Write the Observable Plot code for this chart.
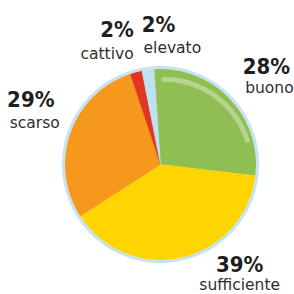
<!DOCTYPE html>
<html>
<head>
<meta charset="utf-8">
<script src="https://cdn.jsdelivr.net/npm/d3@7"></script>
<script src="https://cdn.jsdelivr.net/npm/@observablehq/plot@0.6"></script>
<style>
  html, body { margin: 0; padding: 0; background: #ffffff; }
  #chart svg { display: block; }
</style>
</head>
<body>
<div id="chart"></div>
<script>
// ---- data ----
const categories = ["buono", "sufficiente", "scarso", "cattivo", "elevato"];
const values = [28, 39, 29, 2, 2];
const percentLabels = ["28%", "39%", "29%", "2%", "2%"];

// ---- styles / layout ----
const sliceColors = ["#8fbe52", "#ffd500", "#f6981b", "#df3522", "#bde2f3"];
const ringColor = "#c6e3f3";
const startDeg = -4;
const W = 294, cx = 160, cy = 164, unit = 99; // pie centre and radius in px
// label anchors in unit-circle coordinates (layout, not data)
const pctAnchor = { buono: [1.07, -0.99], sufficiente: [0.80, 1.01], scarso: [-1.31, -0.65], cattivo: [-0.44, -1.36], elevato: [-0.02, -1.41] };
const nameAnchor = { buono: [1.10, -0.77], sufficiente: [0.80, 1.22], scarso: [-1.27, -0.42], cattivo: [-0.54, -1.12], elevato: [0.12, -1.18] };

const rows = categories.map((c, i) => ({ category: c, value: values[i], pct: percentLabels[i], color: sliceColors[i] }));
const arcs = d3.pie().sort(null).value(d => d.value).startAngle(startDeg * Math.PI / 180).endAngle((startDeg + 360) * Math.PI / 180)(rows);

const pt = (a, r) => [r * Math.sin(a), -r * Math.cos(a)];
function wedge(a0, a1, r) {
  const n = Math.max(2, Math.ceil((a1 - a0) / 0.02));
  const ring = [[0, 0]];
  for (let k = 0; k <= n; k++) ring.push(pt(a0 + (a1 - a0) * k / n, r));
  ring.push([0, 0]);
  return ring;
}
const R = 0.965;
const slices = arcs.map(a => ({
  type: "Feature",
  properties: a.data,
  geometry: { type: "Polygon", coordinates: [wedge(a.startAngle, a.endAngle, R)] }
}));
const circle = { type: "LineString", coordinates: d3.range(0, 361, 2).map(d => pt(d * Math.PI / 180, 0.98)) };

// highlight glint on first slice, derived from its angles
const g = arcs[0];
const glint = d3.range(0, 41).map(k => {
  const a = g.startAngle + 0.11 + (g.endAngle - g.startAngle - 0.5) * k / 40;
  const p = pt(a, 0.86 + 0.05 * k / 40);
  return { x: p[0], y: p[1] };
});

const pctRows = rows.map(d => ({ ...d, x: pctAnchor[d.category][0], y: pctAnchor[d.category][1] }));
const nameRows = rows.map(d => ({ ...d, x: nameAnchor[d.category][0], y: nameAnchor[d.category][1] }));

const domain = { type: "MultiPoint", coordinates: [[-cx / unit, -cy / unit], [(W - cx) / unit, (W - cy) / unit]] };

const chart = Plot.plot({
  width: W,
  height: W,
  margin: 0,
  projection: { type: "identity", domain },
  style: { background: "#ffffff" },
  marks: [
    Plot.geo(slices, { fill: d => d.properties.color, stroke: d => d.properties.color, strokeWidth: 0.5 }),
    Plot.geo([circle], { stroke: ringColor, strokeWidth: 3, fill: "none" }),
    Plot.line(glint, { x: "x", y: "y", stroke: "#ffffff", strokeOpacity: 0.35, strokeWidth: 5, strokeLinecap: "round" }),
    Plot.text(pctRows, { x: "x", y: "y", text: "pct", fontSize: 22, fontWeight: "bold", fill: "#1e1e1e", fontFamily: "DejaVu Sans Condensed, DejaVu Sans, sans-serif" }),
    Plot.text(nameRows, { x: "x", y: "y", text: "category", fontSize: 15.5, fill: "#2e2e2e", fontFamily: "DejaVu Sans, sans-serif" })
  ]
});
document.getElementById("chart").appendChild(chart);
</script>
</body>
</html>
